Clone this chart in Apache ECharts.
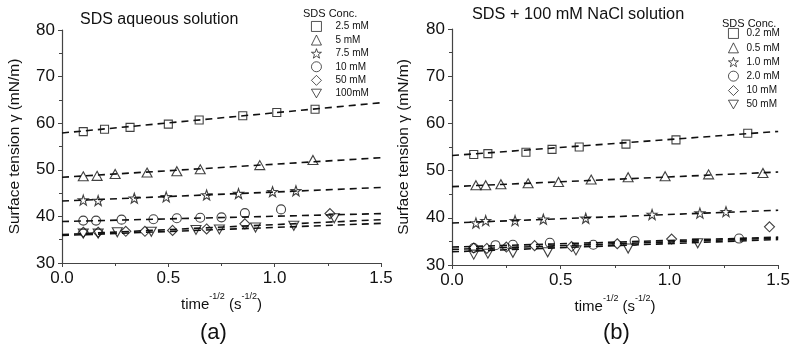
<!DOCTYPE html>
<html>
<head>
<meta charset="utf-8">
<script src="https://cdn.jsdelivr.net/npm/echarts@6/dist/echarts.min.js"></script>
<style>html,body{margin:0;padding:0;background:#fff;}#c{width:793px;height:349px;}</style>
</head>
<body>
<div id="c"></div>
<script>
// ---------- Panel (a): SDS aqueous solution ----------
const aNames = ['2.5 mM', '5 mM', '7.5 mM', '10 mM', '50 mM', '100mM'];
const a1X = [0.10, 0.20, 0.32, 0.50, 0.645, 0.85, 1.01, 1.19];
const a1Y = [58.2, 58.7, 59.1, 59.8, 60.7, 61.6, 62.3, 63.0];
const a2X = [0.10, 0.165, 0.25, 0.40, 0.54, 0.65, 0.93, 1.18];
const a2Y = [48.6, 48.7, 49.1, 49.4, 49.7, 50.1, 51.0, 52.1];
const a3X = [0.10, 0.17, 0.34, 0.49, 0.68, 0.83, 0.99, 1.10];
const a3Y = [43.5, 43.4, 43.9, 44.2, 44.6, 44.9, 45.3, 45.5];
const a4X = [0.10, 0.16, 0.28, 0.43, 0.54, 0.65, 0.75, 0.86, 1.03];
const a4Y = [39.1, 39.1, 39.3, 39.4, 39.6, 39.7, 39.8, 40.7, 41.5];
const a5X = [0.10, 0.17, 0.30, 0.39, 0.52, 0.68, 0.86, 1.26];
const a5Y = [36.6, 36.6, 36.8, 36.8, 37.0, 37.3, 38.4, 40.6];
const a6X = [0.10, 0.17, 0.26, 0.42, 0.63, 0.74, 0.91, 1.09, 1.28];
const a6Y = [36.3, 36.3, 36.6, 36.7, 37.1, 37.2, 37.6, 38.0, 39.6];
const aFitStart = [57.9, 48.4, 43.3, 38.9, 36.1, 35.9];   // fitted value at x = 0
const aFitEnd = [64.4, 52.6, 46.2, 40.6, 39.3, 38.5];     // fitted value at x = 1.5

// ---------- Panel (b): SDS + 100 mM NaCl ----------
const bNames = ['0.2 mM', '0.5 mM', '1.0 mM', '2.0 mM', '10 mM', '50 mM'];
const b1X = [0.10, 0.165, 0.34, 0.46, 0.585, 0.80, 1.03, 1.36];
const b1Y = [53.4, 53.6, 53.9, 54.5, 55.0, 55.6, 56.5, 57.9];
const b2X = [0.11, 0.155, 0.225, 0.35, 0.49, 0.64, 0.81, 0.98, 1.18, 1.43];
const b2Y = [46.9, 46.9, 47.1, 47.3, 47.6, 48.1, 48.6, 48.8, 49.2, 49.5];
const b3X = [0.11, 0.155, 0.29, 0.42, 0.615, 0.92, 1.14, 1.26];
const b3Y = [38.9, 39.4, 39.4, 39.7, 39.9, 40.7, 41.0, 41.3];
const b4X = [0.10, 0.20, 0.28, 0.45, 0.65, 0.84, 1.32];
const b4Y = [33.6, 34.2, 34.3, 34.7, 34.3, 35.1, 35.6];
const b5X = [0.10, 0.16, 0.25, 0.38, 0.55, 0.76, 1.01, 1.46];
const b5Y = [33.6, 33.5, 33.8, 34.1, 33.9, 34.5, 35.5, 38.1];
const b6X = [0.10, 0.165, 0.28, 0.44, 0.57, 0.81, 1.13];
const b6Y = [32.2, 32.4, 32.6, 32.7, 33.1, 33.5, 34.6];
const bFitStart = [53.2, 46.6, 38.9, 33.8, 33.3, 32.8];
const bFitEnd = [58.3, 49.7, 41.6, 35.9, 35.7, 35.4];

const fitX = [0, 1.5];
const yTicks = [30, 80, 10];     // min, max, interval
const xTicks = [0, 1.5, 0.5];

// ---------- styling ----------
const FONT = '"Liberation Sans", Arial, sans-serif';
const INK = '#111';
const STAR = 'path://M5,0 L6.18,3.45 L9.76,3.45 L6.9,5.59 L7.94,9.05 L5,7 L2.06,9.05 L3.1,5.59 L0.24,3.45 L3.82,3.45 Z';
const DOWN = 'path://M0,0 L10,0 L5,8.66 Z';
const symbols = ['rect', 'triangle', STAR, 'circle', 'diamond', DOWN];
const sizes = [8, [10, 9], 10, 9, 10, [10, 9]];

const aX = [a1X, a2X, a3X, a4X, a5X, a6X], aY = [a1Y, a2Y, a3Y, a4Y, a5Y, a6Y];
const bX = [b1X, b2X, b3X, b4X, b5X, b6X], bY = [b1Y, b2Y, b3Y, b4Y, b5Y, b6Y];

function zip(xs, ys) { return xs.map((x, i) => [x, ys[i]]); }

const series = [];
function addPanel(prefix, idx, names, xs, ys, f0, f1) {
  names.forEach((n, i) => {
    series.push({
      type: 'line', xAxisIndex: idx, yAxisIndex: idx, silent: true,
      data: zip(fitX, [f0[i], f1[i]]), showSymbol: false, symbol: 'none',
      lineStyle: { color: INK, width: 1.6, type: [7, 5] }, z: 2
    });
    series.push({
      type: 'scatter', name: prefix + '|' + n, xAxisIndex: idx, yAxisIndex: idx,
      data: zip(xs[i], ys[i]), symbol: symbols[i], symbolSize: sizes[i],
      itemStyle: { color: 'rgba(255,255,255,0)', borderColor: INK, borderWidth: 1.1 }, z: 3
    });
  });
}
addPanel('a', 0, aNames, aX, aY, aFitStart, aFitEnd);
addPanel('b', 1, bNames, bX, bY, bFitStart, bFitEnd);

function xAxis(idx) {
  return {
    type: 'value', gridIndex: idx, min: xTicks[0], max: xTicks[1], interval: xTicks[2],
    name: '{n|time}{s|-1/2}{n| (s}{s|-1/2}{n|)}', nameLocation: 'middle', nameGap: 29,
    nameTextStyle: {
      rich: {
        n: { fontFamily: FONT, fontSize: 15, color: INK, lineHeight: 20, verticalAlign: 'bottom' },
        s: { fontFamily: FONT, fontSize: 9, color: INK, lineHeight: 10, verticalAlign: 'top' }
      }
    },
    axisLine: { lineStyle: { color: '#444', width: 1.2 } },
    axisTick: { length: 4, lineStyle: { color: '#444' } },
    minorTick: { show: true, splitNumber: 2, length: 3, lineStyle: { color: '#444' } },
    splitLine: { show: false },
    axisLabel: { fontFamily: FONT, fontSize: 17, color: INK, margin: 7, formatter: v => v.toFixed(1) }
  };
}
function yAxis(idx, gap) {
  return {
    type: 'value', gridIndex: idx, min: yTicks[0], max: yTicks[1], interval: yTicks[2],
    name: 'Surface tension \u03b3 (mN/m)', nameLocation: 'middle', nameGap: gap,
    nameTextStyle: { fontFamily: FONT, fontSize: 15.5, color: INK },
    axisLine: { show: true, lineStyle: { color: '#444', width: 1.2 } },
    axisTick: { show: true, length: 4, lineStyle: { color: '#444' } },
    minorTick: { show: true, splitNumber: 2, length: 3, lineStyle: { color: '#444' } },
    splitLine: { show: false },
    axisLabel: { fontFamily: FONT, fontSize: 17, color: INK, margin: 7 }
  };
}

function legend(prefix, names, left, top, textPad, gap) {
  return {
    orient: 'vertical', left: left, top: top, padding: 0,
    itemWidth: 10, itemHeight: 10, itemGap: gap, selectedMode: false,
    itemStyle: { borderWidth: 0.9, borderColor: INK, color: 'rgba(255,255,255,0)' },
    data: names.map(n => prefix + '|' + n),
    formatter: n => '{t|' + n.split('|')[1] + '}',
    textStyle: {
      fontFamily: FONT, fontSize: 10, color: INK, lineHeight: 10,
      rich: { t: { fontFamily: FONT, fontSize: 10, color: INK, lineHeight: 10, padding: [0, 0, 0, textPad] } }
    }
  };
}

function label(text, left, top, size) {
  return { text: text, left: left, top: top, padding: 0,
    textStyle: { fontFamily: FONT, fontSize: size, fontWeight: 'normal', color: INK } };
}

const option = {
  backgroundColor: '#fff',
  animation: false,
  title: [
    label('SDS aqueous solution', 80, 12, 16),
    label('SDS + 100 mM NaCl solution', 472, 7, 16.3),
    label('SDS Conc.', 303, 8, 11),
    label('SDS Conc.', 722, 18, 11),
    label('(a)', 200, 322, 22),
    label('(b)', 603, 322, 22)
  ],
  legend: [
    legend('a', aNames, 311, 21, 9, 2.7),
    legend('b', bNames, 728, 28, 3, 3.5)
  ],
  grid: [
    { left: 62, right: 412, top: 30, bottom: 86 },
    { left: 452, right: 13, top: 29, bottom: 84 }
  ],
  xAxis: [xAxis(0), xAxis(1)],
  yAxis: [yAxis(0, 39), yAxis(1, 40)],
  series: series
};

const chart = echarts.init(document.getElementById('c'), null, { renderer: 'canvas' });
chart.setOption(option);
</script>
</body>
</html>
